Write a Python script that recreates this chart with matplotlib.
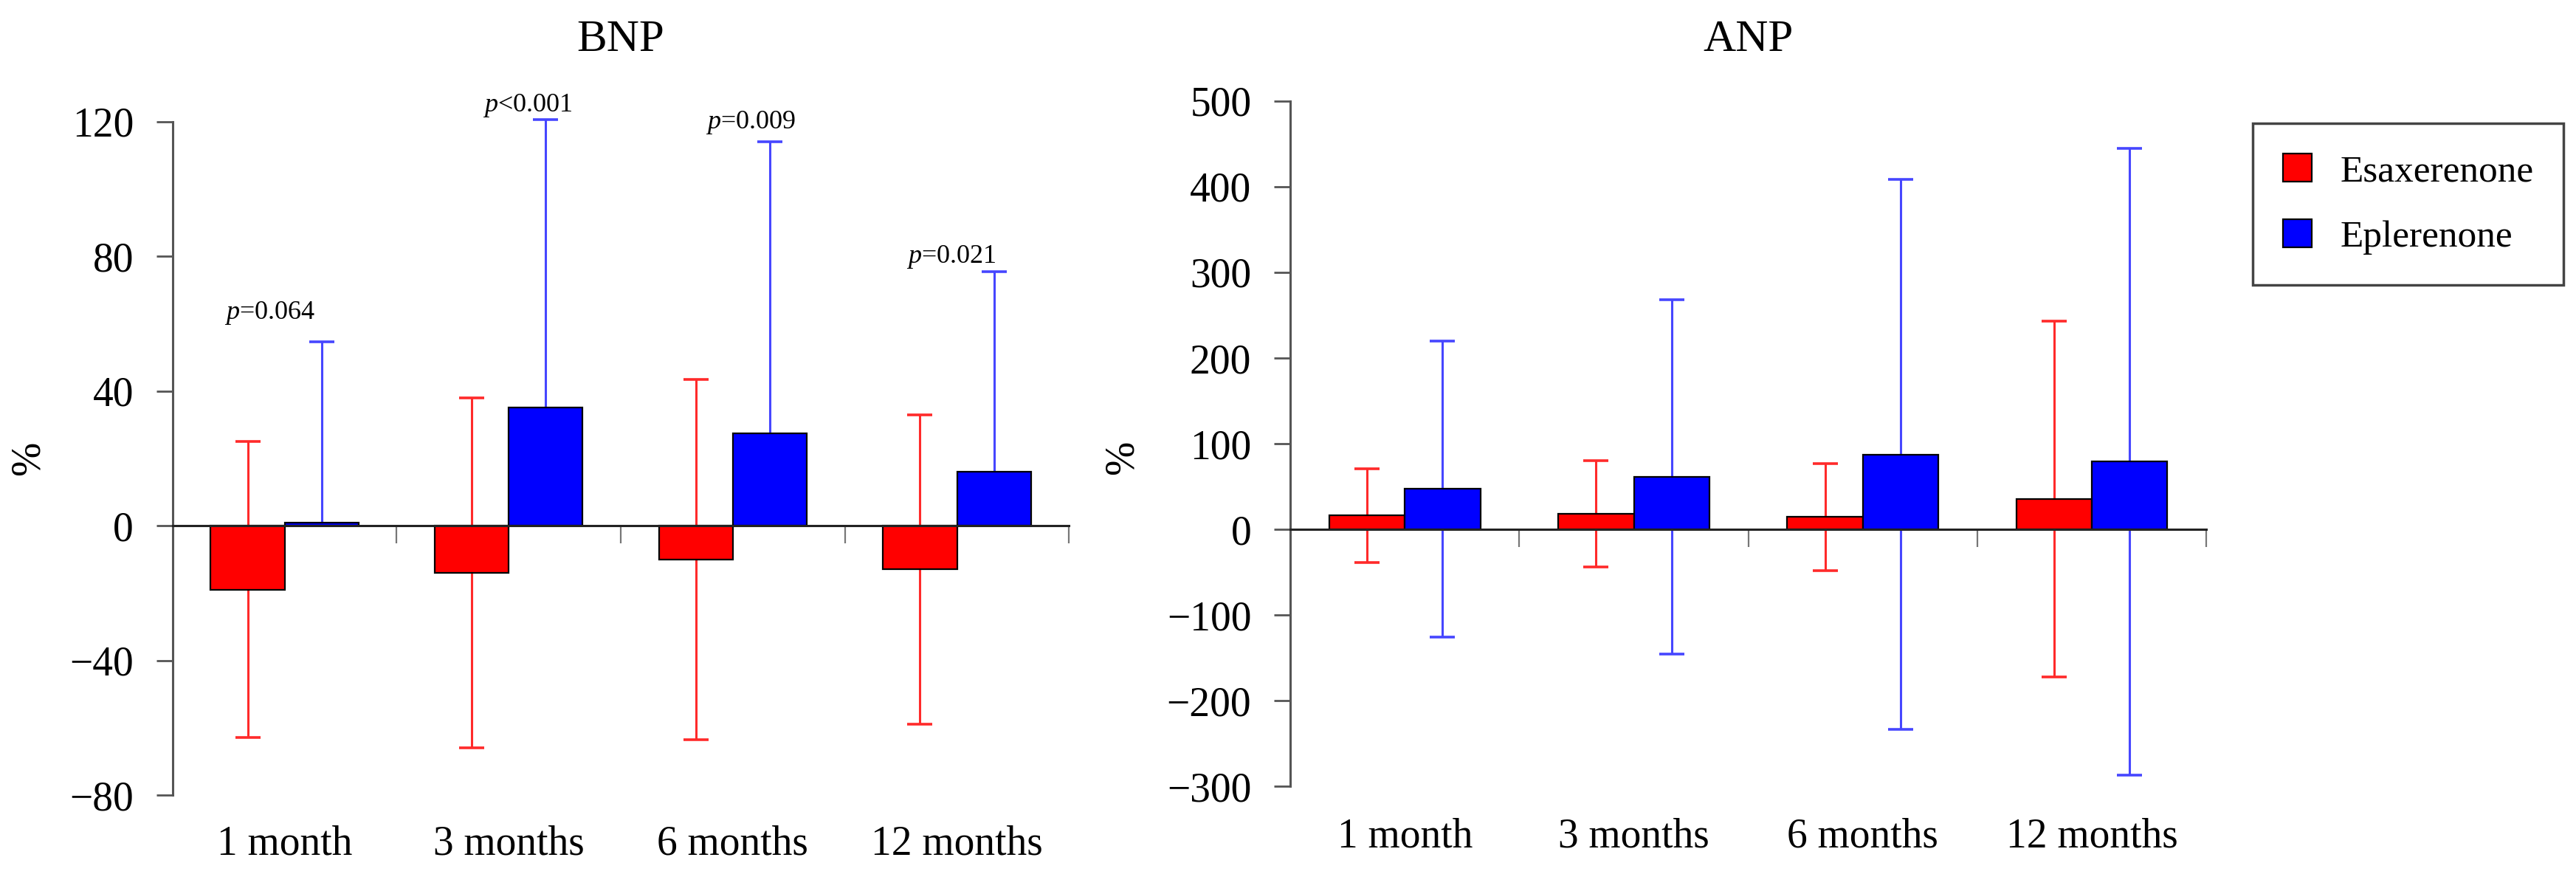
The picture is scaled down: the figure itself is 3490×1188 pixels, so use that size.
import numpy as np
import matplotlib
matplotlib.use('Agg')
import matplotlib.pyplot as plt
from matplotlib.patches import Patch
from matplotlib.transforms import blended_transform_factory

plt.rcParams['font.family'] = ['Liberation Serif', 'DejaVu Serif']
plt.rcParams['mathtext.fontset'] = 'custom'
plt.rcParams['mathtext.rm'] = 'Liberation Serif'
plt.rcParams['mathtext.it'] = 'Liberation Serif:italic'

# data (mean and SD, % change from baseline)
months = ['1 month', '3 months', '6 months', '12 months']
drugs = ['Esaxerenone', 'Eplerenone']

bnp_esax_mean = [-19, -14, -10, -13]
bnp_esax_sd = [44, 52, 53.5, 46]
bnp_eple_mean = [1, 35, 27.5, 16]
bnp_eple_sd = [53.5, 85.5, 86.5, 59.5]
bnp_pvalues = ['$p$=0.064', '$p$<0.001', '$p$=0.009', '$p$=0.021']

anp_esax_mean = [16, 18, 14.5, 35.5]
anp_esax_sd = [54.5, 62, 62.5, 208]
anp_eple_mean = [47, 61, 87.5, 79]
anp_eple_sd = [173, 207, 321.5, 366]

bar_colors = ['#ff0000', '#0000ff']
err_colors = ['#ff2a2a', '#4646ff']

# p-value label offsets from the top of the Eplerenone error bar
p_dx = [-0.23, -0.08, -0.085, -0.19]
p_dy = [7, 2.5, 4, 2.5]

fig = plt.figure(figsize=(34.9, 11.88), dpi=100)
ax1 = fig.add_axes([0.067, 0.0934, 0.348, 0.768])
ax2 = fig.add_axes([0.5009, 0.1035, 0.3556, 0.7812])

w = 0.33
x = np.arange(len(months))


def draw_panel(ax, esax_mean, esax_sd, eple_mean, eple_sd, yticks, label_y, eple_lower=True):
    ax.bar(x - w / 2, esax_mean, w, color=bar_colors[0], edgecolor='black', linewidth=1.6, zorder=2)
    ax.bar(x + w / 2, eple_mean, w, color=bar_colors[1], edgecolor='black', linewidth=1.6, zorder=2)
    ax.errorbar(x - w / 2, esax_mean, yerr=esax_sd, fmt='none', ecolor=err_colors[0],
                elinewidth=2.2, capsize=12, capthick=2.6, zorder=1, clip_on=False)
    lower = np.array(eple_sd) if eple_lower else np.zeros(len(eple_sd))
    eb = ax.errorbar(x + w / 2, eple_mean, yerr=[lower, eple_sd], fmt='none', ecolor=err_colors[1],
                     elinewidth=2.2, capsize=12, capthick=2.6, zorder=1, clip_on=False)
    if not eple_lower:
        eb[1][0].set_visible(False)

    ax.set_xlim(-0.5, len(months) - 0.5)
    ax.set_ylim(yticks[0], yticks[-1])
    ax.set_yticks(yticks)
    ax.set_xticks(x + 0.5)
    ax.set_xticklabels([])

    for s in ['top', 'right']:
        ax.spines[s].set_visible(False)
    ax.spines['left'].set_color('#555555')
    ax.spines['left'].set_linewidth(2.2)
    ax.spines['bottom'].set_position(('data', 0))
    ax.spines['bottom'].set_color('#222222')
    ax.spines['bottom'].set_linewidth(2.2)

    ax.tick_params(axis='y', direction='out', length=16, width=2, color='#555555',
                   labelsize=40, pad=22)
    ax.tick_params(axis='x', direction='out', length=17, width=1.6, color='#777777')

    trans = blended_transform_factory(ax.transData, fig.transFigure)
    for i, m in enumerate(months):
        ax.text(i, label_y, m, transform=trans, ha='center', va='baseline', fontsize=40)

    ax.set_ylabel('%', fontsize=40)


draw_panel(ax1, bnp_esax_mean, bnp_esax_sd, bnp_eple_mean, bnp_eple_sd,
           [-80, -40, 0, 40, 80, 120], 0.026, eple_lower=False)
draw_panel(ax2, anp_esax_mean, anp_esax_sd, anp_eple_mean, anp_eple_sd,
           [-300, -200, -100, 0, 100, 200, 300, 400, 500], 0.034)

ax1.yaxis.set_label_coords(-0.139, 0.5)
ax2.yaxis.set_label_coords(-0.162, 0.48)

# p-values above the Eplerenone bars of BNP
for i, p in enumerate(bnp_pvalues):
    top = bnp_eple_mean[i] + bnp_eple_sd[i]
    ax1.text(x[i] + w / 2 + p_dx[i], top + p_dy[i], p, ha='center', va='baseline', fontsize=26)

# titles
for ax, title in [(ax1, 'BNP'), (ax2, 'ANP')]:
    pos = ax.get_position()
    fig.text(pos.x0 + pos.width / 2, 0.942, title, ha='center', va='baseline', fontsize=44)

handles = [Patch(facecolor=c, edgecolor='black', linewidth=1.6) for c in bar_colors]
leg = fig.legend(handles, drugs, loc='upper left', bbox_to_anchor=(0.867, 0.881), fontsize=37,
                 frameon=True, fancybox=False, edgecolor='#444444', framealpha=1,
                 handlelength=0.76, handleheight=0.76, handletextpad=0.75,
                 labelspacing=0.8, borderpad=0.8)
leg.get_frame().set_linewidth(2.5)

fig.savefig('out.png', dpi=100)
